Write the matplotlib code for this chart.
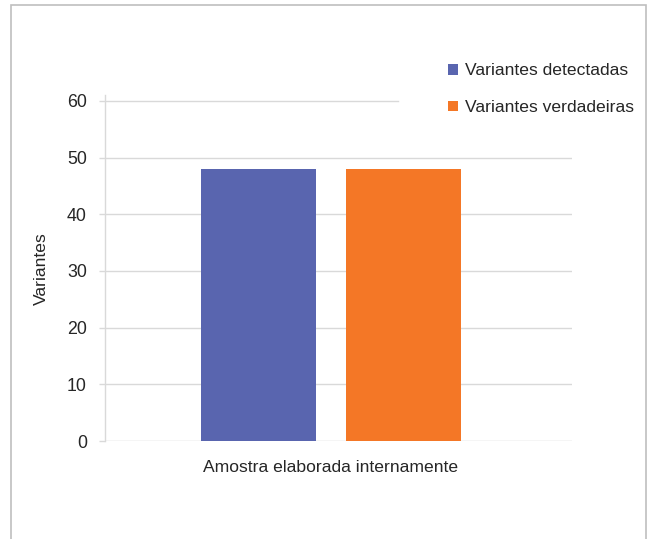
import matplotlib
matplotlib.use("Agg")
import matplotlib.pyplot as plt
from matplotlib.patches import Rectangle, Patch

plt.rcParams['font.family'] = ['Liberation Sans', 'DejaVu Sans']

categories = ["Amostra elaborada internamente"]
series_names = ["Variantes detectadas", "Variantes verdadeiras"]
detected = [48]
true_vals = [48]
yticks = [0, 10, 20, 30, 40, 50, 60]
ylabel = "Variantes"

colors = ["#5965AF", "#F47726"]
text_color = "#262626"
grid_color = "#D9D9D9"

W, H = 648, 539
fig = plt.figure(figsize=(W / 100, H / 100), dpi=100)
fig.patch.set_facecolor("white")

# outer frame (bottom edge off-canvas)
fig.patches.append(Rectangle((11 / W, -0.05), (646 - 11) / W, 1.05 - 5 / H,
                             transform=fig.transFigure, fill=False,
                             edgecolor="#BFBFBF", linewidth=1.2))

ax_l, ax_r = 105, 572
ax_b, ax_t = 441, 95.2
ax = fig.add_axes([ax_l / W, 1 - ax_b / H, (ax_r - ax_l) / W, (ax_b - ax_t) / H])
ax.set_facecolor("none")

ymax_tick = yticks[-1]
ax.set_ylim(0, 61)
ax.set_xlim(-0.484, 0.516)

bw = 0.246
off = 0.155
ax.bar([-off], detected, width=bw, color=colors[0], zorder=3)
ax.bar([off], true_vals, width=bw, color=colors[1], zorder=3)

# gridlines
for t in yticks:
    xmax = 0.627 if t == ymax_tick else 1.0
    c = "#D0D0D0" if t == 0 else grid_color
    ax.axhline(t, xmin=0, xmax=xmax, color=c, linewidth=1.0, zorder=1)

for s in ["top", "right", "bottom"]:
    ax.spines[s].set_visible(False)
ax.spines["left"].set_color(grid_color)
ax.spines["left"].set_linewidth(1.0)

ax.set_yticks(yticks)
ax.set_yticklabels([str(t) for t in yticks], fontsize=12.8, color=text_color)
ax.tick_params(axis="y", length=4, color=grid_color, width=1.0, pad=9)
ax.set_xticks([0])
ax.set_xticklabels(categories, fontsize=12.6, color=text_color)
ax.tick_params(axis="x", length=0, pad=14)

fig.text(41 / W, 1 - 269 / H, ylabel, rotation=90, ha="center", va="center",
         fontsize=12.6, color=text_color)

handles = [Patch(facecolor=c, edgecolor="none") for c in colors]
fig.legend(handles, series_names, loc="upper left",
           bbox_to_anchor=(443 / W, 1 - 58 / H), frameon=False,
           fontsize=12.6, labelcolor=text_color, handlelength=0.58,
           handleheight=0.58, handletextpad=0.4, labelspacing=1.25,
           borderaxespad=0, borderpad=0.3)

fig.savefig("out.png", dpi=100, facecolor="white")
